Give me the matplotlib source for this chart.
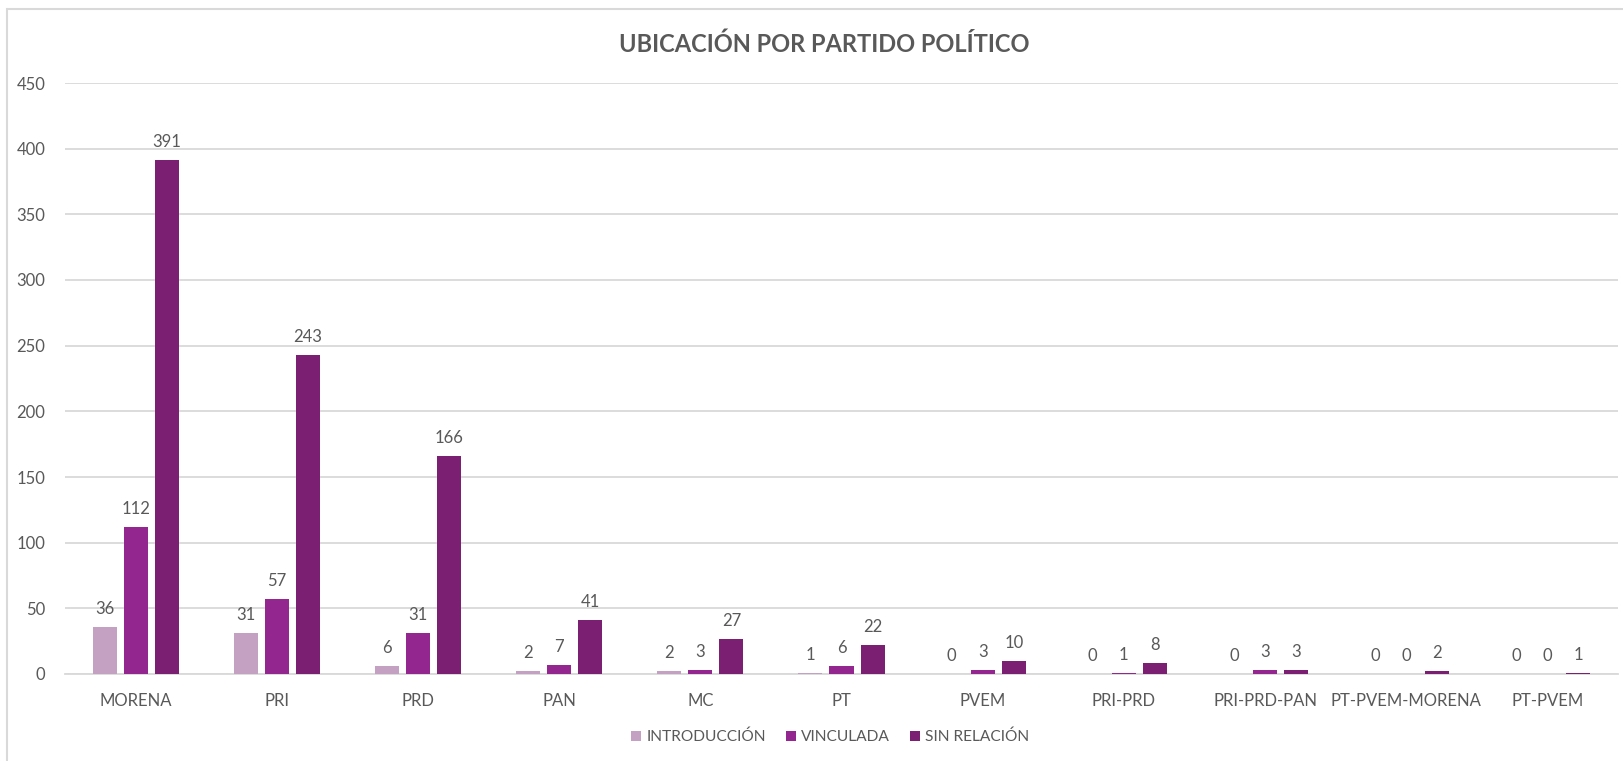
import numpy as np
import matplotlib
import matplotlib.pyplot as plt
from matplotlib.patches import Rectangle

matplotlib.use('Agg')

partidos = ['MORENA', 'PRI', 'PRD', 'PAN', 'MC', 'PT', 'PVEM', 'PRI-PRD',
            'PRI-PRD-PAN', 'PT-PVEM-MORENA', 'PT-PVEM']
introduccion = [36, 31, 6, 2, 2, 1, 0, 0, 0, 0, 0]
vinculada = [112, 57, 31, 7, 3, 6, 3, 1, 3, 0, 0]
sin_relacion = [391, 243, 166, 41, 27, 22, 10, 8, 3, 2, 1]
series_names = ['INTRODUCCIÓN', 'VINCULADA', 'SIN RELACIÓN']
y_ticks = [0, 50, 100, 150, 200, 250, 300, 350, 400, 450]

colores = ['#C4A0C3', '#93278F', '#7A1F72']
gris_txt = '#595959'
gris_lin = '#D9D9D9'

plt.rcParams['font.family'] = ['Lato', 'DejaVu Sans']

W, H = 1623, 761
fig = plt.figure(figsize=(W / 100, H / 100), dpi=100)
fig.patch.set_facecolor('white')

# plot area in pixels: x 65..1618, y 83..674
ax = fig.add_axes([65 / W, 1 - 674 / H, (1618 - 65) / W, (674 - 83) / H])

x = np.arange(len(partidos))
paso = 0.22
ancho = 0.17
for i, (vals, nombre) in enumerate(zip([introduccion, vinculada, sin_relacion], series_names)):
    pos = x + (i - 1) * paso
    ax.bar(pos, vals, width=ancho, color=colores[i], label=nombre, zorder=3)
    for xp, v in zip(pos, vals):
        ax.annotate(str(v), (xp, v), xytext=(0, 13), textcoords='offset pixels',
                    ha='center', va='baseline', fontsize=12, color=gris_txt)

ax.set_xlim(-0.5, len(partidos) - 0.5)
ax.set_ylim(0, 450)
ax.set_yticks(y_ticks)
ax.set_xticks(x)
ax.set_xticklabels(partidos)
ax.tick_params(axis='both', length=0, labelsize=12, colors=gris_txt)
ax.tick_params(axis='y', pad=14)
ax.tick_params(axis='x', pad=14)
ax.grid(axis='y', color=gris_lin, linewidth=1.3, zorder=0)
for s in ['top', 'right', 'left']:
    ax.spines[s].set_visible(False)
ax.spines['bottom'].set_color(gris_lin)
ax.spines['bottom'].set_linewidth(1.3)

fig.text(824 / W, 1 - 44 / H, 'UBICACIÓN POR PARTIDO POLÍTICO', ha='center', va='center',
         fontsize=17, fontweight='bold', color=gris_txt)

ax.legend(loc='center', bbox_to_anchor=(830 / W, 1 - 737 / H), bbox_transform=fig.transFigure,
          ncol=3, frameon=False, fontsize=11.2, labelcolor=gris_txt,
          handlelength=0.65, handleheight=0.65, handletextpad=0.3, columnspacing=1.3)

# chart border
fig.patches.append(Rectangle((7 / W, -0.05), 1.1, 1 - 9 / H + 0.05, transform=fig.transFigure,
                             fill=False, edgecolor=gris_lin, linewidth=1.5))

plt.savefig('out.png', dpi=100)
plt.close(fig)
